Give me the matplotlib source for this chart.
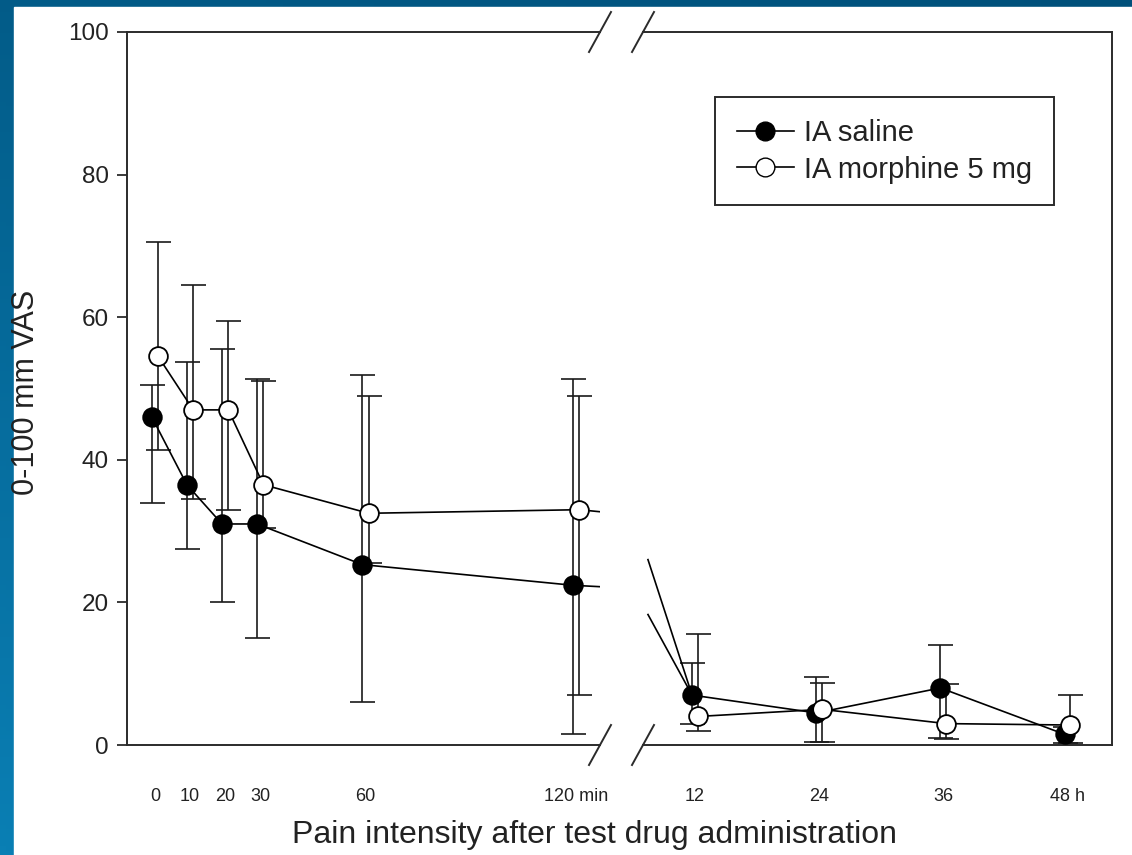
#!/usr/bin/env python3
"""Pain VAS after intra-articular saline vs morphine, broken time axis (min | h)."""

import matplotlib
matplotlib.use("Agg")
import matplotlib.pyplot as plt
import numpy as np
from matplotlib.colors import LinearSegmentedColormap
from matplotlib.lines import Line2D
from matplotlib.patches import Rectangle

plt.rcParams["font.family"] = ["Liberation Sans", "DejaVu Sans"]

# ---- data ----
minutes = [0, 10, 20, 30, 60, 120]
min_labels = ["0", "10", "20", "30", "60", "120 min"]
hours = [12, 24, 36, 48]
hour_labels = ["12", "24", "36", "48 h"]

saline_min = [46, 36.5, 31, 31, 25.3, 22.4]
saline_min_hi = [50.5, 53.7, 55.5, 51.3, 51.9, 51.4]
saline_min_lo = [34, 27.5, 20, 15, 6, 1.5]
saline_h = [7, 4.5, 8, 1.5]
saline_h_hi = [11.5, 9.5, 14, 2.5]
saline_h_lo = [3, 0.4, 1, 0.3]

morph_min = [54.5, 47, 47, 36.5, 32.5, 33]
morph_min_hi = [70.5, 64.5, 59.5, 51, 49, 49]
morph_min_lo = [41.4, 34.5, 33, 30.5, 25.5, 7]
morph_h = [4, 5, 3, 2.8]
morph_h_hi = [15.5, 8.7, 8.5, 7]
morph_h_lo = [2, 0.4, 0.8, 0.3]

# odd leftover segments running across the break into the 12 h points
bridge_start_h = 7.46
bridge_start = [26, 18.3]

labels = ["IA saline", "IA morphine 5 mg"]

W, H = 1132, 855


def fx(px):
    return px / W


def fy(py):
    return 1 - py / H


fig = plt.figure(figsize=(W / 100, H / 100), dpi=100)

# slide background: blue gradient with the white page on top
bg = fig.add_axes([0, 0, 1, 1], zorder=-10)
yy, xx = np.mgrid[0:1:200j, 0:1:200j]
bg.imshow(0.75 * yy + 0.25 * (1 - xx), extent=(0, 1, 0, 1), aspect="auto",
          origin="upper",
          cmap=LinearSegmentedColormap.from_list("slide", ["#00507a", "#0a7fb4"]))
bg.add_patch(Rectangle((fx(14), 0), 1 - fx(14), fy(7), color="white", zorder=2))
bg.set_xlim(0, 1)
bg.set_ylim(0, 1)
bg.axis("off")

axL = fig.add_axes([fx(127), fy(745), fx(600) - fx(127), fy(32) - fy(745)])
axR = fig.add_axes([fx(643), fy(745), fx(1112) - fx(643), fy(32) - fy(745)])

spine_c = "#2b2b2b"
for ax in (axL, axR):
    ax.set_ylim(0, 100)
    ax.set_facecolor("none")
    for s in ax.spines.values():
        s.set_color(spine_c)
        s.set_linewidth(1.4)
axL.spines["right"].set_visible(False)
axR.spines["left"].set_visible(False)
axL.set_xlim(-7.97, 126.8)
axR.set_xlim(6.98, 52.3)

axL.set_yticks([0, 20, 40, 60, 80, 100])
axL.tick_params(axis="y", direction="out", length=7, width=1.3, color=spine_c,
                labelsize=17.5, pad=6, labelcolor="#222222")
axR.set_yticks([])

axL.set_xticks(minutes)
axL.set_xticklabels(min_labels)
axR.set_xticks(hours)
axR.set_xticklabels(hour_labels)
for ax in (axL, axR):
    ax.tick_params(axis="x", length=0, pad=31, labelsize=13, labelcolor="#222222")

off_min, off_h = 0.9, 0.28
line_kw = dict(color="black", lw=1.2, zorder=2)
err_kw = dict(fmt="none", ecolor="#1a1a1a", elinewidth=1.2, capsize=9, capthick=1.2,
              zorder=1)
filled = dict(marker="o", ms=13.5, mfc="black", mec="black", mew=1.2, ls="none", zorder=4)
hollow = dict(marker="o", ms=13.5, mfc="white", mec="black", mew=1.3, ls="none", zorder=4)

series = [
    (saline_min, saline_min_lo, saline_min_hi, saline_h, saline_h_lo, saline_h_hi,
     -1, filled),
    (morph_min, morph_min_lo, morph_min_hi, morph_h, morph_h_lo, morph_h_hi,
     1, hollow),
]

for ym, lom, him, yh, loh, hih, sign, mstyle in series:
    ym, lom, him = np.array(ym), np.array(lom), np.array(him)
    yh, loh, hih = np.array(yh), np.array(loh), np.array(hih)
    xm = np.array(minutes) + sign * off_min
    xh = np.array(hours) + sign * off_h

    # minutes panel; line carries on toward the 12 h point and gets clipped
    axL.plot(np.append(xm, hours[0] * 60), np.append(ym, yh[0]), **line_kw)
    axL.errorbar(xm, ym, yerr=[ym - lom, him - ym], **err_kw)
    axL.plot(xm, ym, **mstyle)

    # hours panel
    axR.plot(xh, yh, **line_kw)
    axR.errorbar(xh, yh, yerr=[yh - loh, hih - yh], **err_kw)
    axR.plot(xh, yh, **mstyle)

for yb in bridge_start:
    axR.plot([bridge_start_h, hours[0] - off_h], [yb, saline_h[0]], **line_kw)

# break marks on top and bottom axis lines
for cy in (32, 745):
    for cx in (600, 643):
        fig.add_artist(Line2D([fx(cx - 11), fx(cx + 11)], [fy(cy + 20), fy(cy - 20)],
                              color=spine_c, lw=1.4))

handles = [
    Line2D([], [], color="black", lw=1.2, marker="o", ms=13.5, mfc="black", mec="black"),
    Line2D([], [], color="black", lw=1.2, marker="o", ms=13.5, mfc="white", mec="black"),
]
leg = fig.legend(handles, labels, loc="upper left", bbox_to_anchor=(fx(715), fy(97)),
                 bbox_transform=fig.transFigure, borderaxespad=0, fontsize=21,
                 frameon=True, fancybox=False, edgecolor=spine_c, framealpha=1,
                 handlelength=1.95, handletextpad=0.35, labelspacing=0.3,
                 borderpad=0.75)
leg.get_frame().set_linewidth(1.4)
for t in leg.get_texts():
    t.set_color("#222222")

fig.text(fx(594), fy(835), "Pain intensity after test drug administration",
         ha="center", va="center", fontsize=23, color="#222222")
fig.text(fx(26), fy(392), "0-100 mm VAS", ha="center", va="center", rotation=90,
         fontsize=22, color="#222222")

fig.savefig("out.png", dpi=100)
